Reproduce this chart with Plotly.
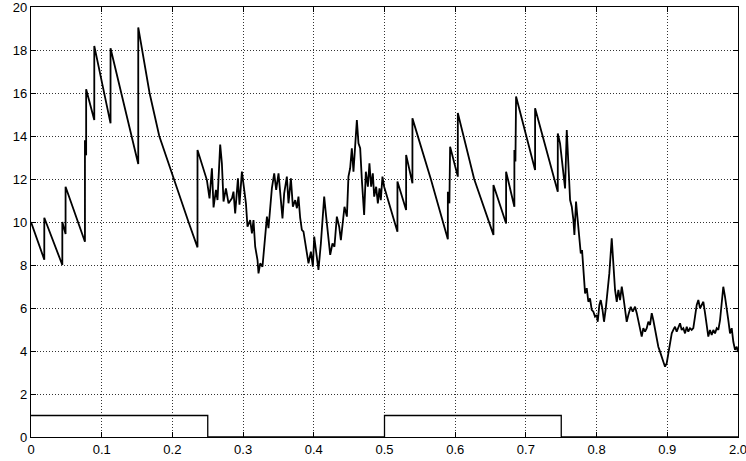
import plotly.graph_objects as go

# Process path (x, y)
path_x = [
    0.0, 0.0188, 0.0188, 0.0443, 0.0443, 0.0489, 0.0489, 0.0763, 0.0763, 0.0780, 0.0780,
    0.0895, 0.0895, 0.1125, 0.1125, 0.1517, 0.1517, 0.1677, 0.1814, 0.2016, 0.2228, 0.2355, 0.2355,
    0.2488, 0.2525, 0.2559, 0.2582, 0.2616, 0.2638, 0.2676, 0.2700, 0.2723, 0.2757, 0.2794,
    0.2842, 0.2864, 0.2888, 0.2927, 0.2949, 0.2983, 0.3006, 0.3040, 0.3062, 0.3100, 0.3125,
    0.3147, 0.3171, 0.3204, 0.3218, 0.3242, 0.3274, 0.3289, 0.3337, 0.3359, 0.3383, 0.3407,
    0.3440, 0.3468, 0.3501, 0.3535, 0.3557, 0.3581, 0.3619, 0.3642, 0.3676, 0.3704, 0.3737,
    0.3761, 0.3783, 0.3807, 0.3831, 0.3854, 0.3892, 0.3925, 0.3959, 0.3987, 0.4006, 0.4034,
    0.4066, 0.4100, 0.4123, 0.4147, 0.4175, 0.4207, 0.4232, 0.4264, 0.4292, 0.4326, 0.4359,
    0.4383, 0.4411, 0.4434, 0.4468, 0.4490, 0.4514, 0.4538, 0.4561, 0.4585, 0.4609, 0.4632,
    0.4656, 0.4680, 0.4712, 0.4736, 0.4765, 0.4787, 0.4811, 0.4835, 0.4854, 0.4882, 0.4906,
    0.4929, 0.4948, 0.4971, 0.4995,
    0.5183, 0.5183, 0.5306, 0.5306, 0.5395, 0.5395, 0.5655, 0.5896, 0.5896, 0.5918, 0.5928,
    0.6037, 0.6037, 0.6268, 0.6541, 0.6541, 0.6720, 0.6720, 0.6837, 0.6837, 0.6852, 0.6861,
    0.7130, 0.7130, 0.7451, 0.7451,
    0.7483, 0.7507, 0.7530, 0.7554, 0.7578, 0.7601, 0.7625, 0.7649, 0.7672, 0.7686, 0.7709,
    0.7728, 0.7752, 0.7776, 0.7794, 0.7813, 0.7837, 0.7861, 0.7883, 0.7907, 0.7931, 0.7954,
    0.7978, 0.8002, 0.8016, 0.8039, 0.8059, 0.8081, 0.8105, 0.8130, 0.8158, 0.8180, 0.8214,
    0.8237, 0.8261, 0.8285, 0.8308, 0.8332, 0.8356, 0.8378, 0.8402, 0.8426, 0.8449, 0.8483,
    0.8511, 0.8544, 0.8568, 0.8590, 0.8614, 0.8638, 0.8661, 0.8685, 0.8709, 0.8732, 0.8756,
    0.8780, 0.8802, 0.8826, 0.8850, 0.8873, 0.8897, 0.8921, 0.8944, 0.8968, 0.8992, 0.9015,
    0.9039, 0.9063, 0.9085, 0.9109, 0.9133, 0.9156, 0.9180, 0.9204, 0.9227, 0.9251, 0.9275,
    0.9297, 0.9321, 0.9345, 0.9368, 0.9392, 0.9416, 0.9439, 0.9463, 0.9487, 0.9510, 0.9534,
    0.9558, 0.9580, 0.9604, 0.9628, 0.9651, 0.9675, 0.9699, 0.9722, 0.9746, 0.9770, 0.9792,
    0.9816, 0.9840, 0.9863, 0.9887, 0.9911, 0.9934, 0.9958, 0.9982, 1.0,
]
path_y = [
    10.0, 8.25, 10.2, 8.0, 10.0, 9.44, 11.64, 9.08, 13.8, 13.1, 16.17,
    14.74, 18.19, 14.59, 18.08, 12.7, 19.05, 16.0, 14.0, 12.0, 10.0, 8.82, 13.35,
    11.95, 11.1, 12.5, 10.68, 11.49, 11.02, 13.6, 12.73, 10.95, 11.56, 10.87,
    11.1, 11.41, 10.4, 12.03, 10.8, 12.34, 11.72, 10.87, 9.78, 10.09, 9.47,
    10.09, 8.85, 8.23, 7.61, 8.08, 7.92, 8.54, 10.25, 9.71, 10.87, 11.56,
    12.26, 11.49, 12.26, 11.18, 10.17, 11.33, 12.11, 10.87, 12.03, 10.71, 11.02,
    10.64, 11.18, 10.2, 9.63, 9.55, 8.85, 8.08, 8.62, 7.92, 9.32, 8.62,
    7.77, 9.0, 10.25, 11.18, 10.25, 9.16, 8.47, 9.0, 8.85, 10.25, 9.78,
    9.16, 10.0, 10.71, 10.25, 12.11, 12.5, 13.43, 12.34, 13.35, 14.74, 13.66,
    13.43, 11.95, 10.33, 12.34, 11.64, 12.73, 11.64, 12.26, 11.18, 11.64, 10.87,
    11.56, 11.02, 12.11, 11.64,
    9.55, 11.88, 10.56, 13.12, 11.8, 14.82, 12.0, 9.2, 11.41, 10.87, 13.5,
    12.11, 15.07, 12.0, 9.4, 11.72, 9.93, 12.34, 10.71, 13.35, 12.82, 15.84,
    12.42, 15.29, 11.41, 14.12,
    13.66, 12.88, 12.03, 11.56, 14.28, 12.73, 11.02, 10.71, 10.09, 9.4, 10.95,
    10.25, 9.47, 8.54, 8.7, 7.92, 6.68, 6.92, 6.29, 6.45, 5.91, 5.83,
    5.6, 5.67, 5.36, 6.14, 6.37, 5.98, 5.36, 5.98, 6.84, 7.61, 9.24,
    7.92, 6.84, 6.29, 6.84, 6.37, 6.99, 6.53, 5.98, 5.36, 5.67, 6.06,
    5.83, 6.06, 5.76, 5.44, 5.13, 4.67, 5.06, 4.9, 5.06, 5.36, 5.21,
    5.76, 5.44, 4.98, 4.51, 4.2, 3.97, 3.66, 3.5, 3.27, 3.43, 3.89,
    4.43, 4.82, 4.98, 5.13, 4.9, 5.06, 5.29, 4.98, 5.06, 4.82, 5.13,
    4.9, 5.06, 4.98, 5.06, 5.6, 6.14, 6.37, 5.98, 6.14, 6.29, 5.76,
    5.21, 4.67, 4.98, 4.74, 4.98, 4.82, 5.06, 4.98, 5.44, 6.22, 6.99,
    6.53, 6.06, 5.44, 4.82, 5.06, 4.43, 4.05, 4.2, 3.95,
]

# Regime indicator (step function)
regime_x = [0.0, 0.25, 0.5, 0.75, 1.0]
regime_y = [1, 0, 1, 0, 0]

x_tickvals = [0, 0.1, 0.2, 0.3, 0.4, 0.5, 0.6, 0.7, 0.8, 0.9, 1.0]
x_ticktext = ["0", "0.1", "0.2", "0.3", "0.4", "0.5", "0.6", "0.7", "0.8", "0.9", "2.0"]
y_tickvals = [0, 2, 4, 6, 8, 10, 12, 14, 16, 18, 20]

fig = go.Figure()
fig.add_trace(go.Scatter(x=path_x, y=path_y, mode="lines",
                         line=dict(color="black", width=1.8), showlegend=False))
fig.add_trace(go.Scatter(x=regime_x, y=regime_y, mode="lines", line_shape="hv",
                         line=dict(color="black", width=1.3), showlegend=False))

axis_common = dict(
    showgrid=True, gridcolor="#333333", griddash="1px,2px", gridwidth=1,
    showline=True, linecolor="black", linewidth=1.2, mirror="ticks",
    ticks="inside", ticklen=5, tickcolor="black", zeroline=False,
    automargin=False, ticklabeloverflow="allow",
    tickfont=dict(family="Liberation Sans, Arial, sans-serif", size=13, color="black"),
)
fig.update_xaxes(range=[0, 1], tickvals=x_tickvals, ticktext=x_ticktext, **axis_common)
fig.update_yaxes(range=[0, 20], tickvals=y_tickvals, **axis_common)

fig.update_layout(
    width=746, height=461,
    margin=dict(l=31, r=8, t=7, b=24),
    paper_bgcolor="white", plot_bgcolor="white",
)

fig.write_html("out.html",
               config={"displayModeBar": False},
               post_script="document.body.style.margin='0';document.body.style.overflow='hidden';")
